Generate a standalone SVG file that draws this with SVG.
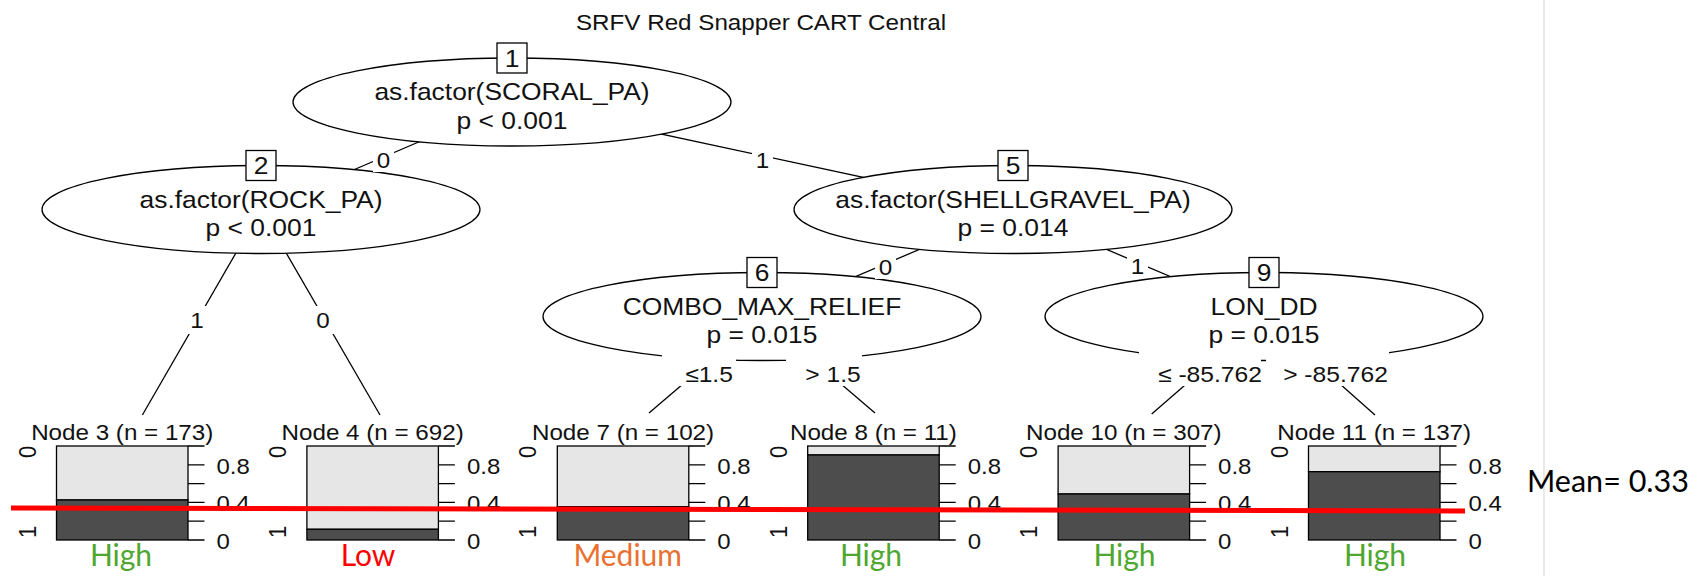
<svg xmlns="http://www.w3.org/2000/svg" width="1704" height="576" viewBox="0 0 1704 576">
<style>
.t{font-family:"Liberation Sans",Arial,sans-serif;font-size:22px;fill:#111;text-anchor:middle}
.tb{font-family:"Liberation Sans",Arial,sans-serif;font-size:24px;fill:#111;text-anchor:middle}
.ts{font-family:"Liberation Sans",Arial,sans-serif;font-size:22px;fill:#111;text-anchor:start}
.ell{fill:#fff;stroke:#000;stroke-width:1.3}
.idb{fill:#fff;stroke:#000;stroke-width:1.3}
.edge{stroke:#000;stroke-width:1.3;fill:none}
.bg{fill:#fff}
.light{fill:#e6e6e6;stroke:#000;stroke-width:1.3}
.dark{fill:#4d4d4d;stroke:#000;stroke-width:1.3}
.tick{stroke:#000;stroke-width:1.3;fill:none}
.cls{font-family:Lato,"Open Sans",sans-serif;font-size:30px;text-anchor:middle}
.hi{fill:#4ea72e}.lo{fill:#ff0000}.me{fill:#e97132}
</style>
<rect width="1704" height="576" fill="#fff"/>
<line x1="1544" y1="0" x2="1544" y2="576" stroke="#e3e3e3" stroke-width="1.5"/>
<text class="t" transform="translate(761,30) scale(1.1,1)">SRFV Red Snapper CART Central</text>

<g id="connectors">
<line class="edge" x1="512" y1="102" x2="261" y2="209.5"/>
<line class="edge" x1="512" y1="102" x2="1013" y2="209.5"/>
<line class="edge" x1="1013" y1="209.5" x2="762" y2="316.5"/>
<line class="edge" x1="1013" y1="209.5" x2="1264" y2="316.5"/>
<line class="edge" x1="261" y1="209.5" x2="142.4" y2="415"/>
<line class="edge" x1="261" y1="209.5" x2="380" y2="415"/>
<line class="edge" x1="762" y1="316.5" x2="649" y2="413"/>
<line class="edge" x1="762" y1="316.5" x2="875" y2="413"/>
<line class="edge" x1="1264" y1="316.5" x2="1151.7" y2="414"/>
<line class="edge" x1="1264" y1="316.5" x2="1375" y2="415"/>
</g>

<g id="node1">
<ellipse class="ell" cx="512" cy="102" rx="219" ry="44"/>
<rect class="idb" x="497" y="43" width="30" height="30"/>
<text class="tb" transform="translate(512,66.5) scale(1.1,1)">1</text>
<text class="tb" transform="translate(512,100) scale(1.1,1)">as.factor(SCORAL_PA)</text>
<text class="tb" transform="translate(512,128.5) scale(1.1,1)">p &lt; 0.001</text>
</g>
<g id="node2">
<ellipse class="ell" cx="261" cy="209.5" rx="219" ry="44"/>
<rect class="idb" x="246" y="150.5" width="30" height="30"/>
<text class="tb" transform="translate(261,174) scale(1.1,1)">2</text>
<text class="tb" transform="translate(261,207.5) scale(1.1,1)">as.factor(ROCK_PA)</text>
<text class="tb" transform="translate(261,236) scale(1.1,1)">p &lt; 0.001</text>
</g>
<g id="node5">
<ellipse class="ell" cx="1013" cy="209.5" rx="219" ry="44"/>
<rect class="idb" x="998" y="150.5" width="30" height="30"/>
<text class="tb" transform="translate(1013,174) scale(1.1,1)">5</text>
<text class="tb" transform="translate(1013,207.5) scale(1.1,1)">as.factor(SHELLGRAVEL_PA)</text>
<text class="tb" transform="translate(1013,236) scale(1.1,1)">p = 0.014</text>
</g>
<g id="node6">
<ellipse class="ell" cx="762" cy="316.5" rx="219" ry="44"/>
<rect class="idb" x="747" y="257.5" width="30" height="30"/>
<text class="tb" transform="translate(762,281) scale(1.1,1)">6</text>
<text class="tb" transform="translate(762,314.5) scale(1.1,1)">COMBO_MAX_RELIEF</text>
<text class="tb" transform="translate(762,343) scale(1.1,1)">p = 0.015</text>
</g>
<g id="node9">
<ellipse class="ell" cx="1264" cy="316.5" rx="219" ry="44"/>
<rect class="idb" x="1249" y="257.5" width="30" height="30"/>
<text class="tb" transform="translate(1264,281) scale(1.1,1)">9</text>
<text class="tb" transform="translate(1264,314.5) scale(1.1,1)">LON_DD</text>
<text class="tb" transform="translate(1264,343) scale(1.1,1)">p = 0.015</text>
</g>

<g id="edge-labels">
<rect class="bg" x="373" y="148" width="21" height="24"/>
<text class="t" transform="translate(383.5,168) scale(1.1,1)">0</text>
<rect class="bg" x="752" y="148" width="21" height="24"/>
<text class="t" transform="translate(762.5,168) scale(1.1,1)">1</text>
<rect class="bg" x="875" y="255" width="21" height="24"/>
<text class="t" transform="translate(885.5,275) scale(1.1,1)">0</text>
<rect class="bg" x="1127" y="254" width="21" height="24"/>
<text class="t" transform="translate(1137.5,274) scale(1.1,1)">1</text>
<rect class="bg" x="186" y="306" width="22" height="28"/>
<text class="t" transform="translate(197,328) scale(1.1,1)">1</text>
<rect class="bg" x="312" y="306" width="22" height="28"/>
<text class="t" transform="translate(323,328) scale(1.1,1)">0</text>
<rect class="bg" x="662" y="352" width="74" height="34"/>
<text class="t" transform="translate(709,382) scale(1.12,1)">≤1.5</text>
<rect class="bg" x="786" y="352" width="76" height="34"/>
<text class="t" transform="translate(833,382) scale(1.12,1)">&gt; 1.5</text>
<rect class="bg" x="1139" y="350" width="122" height="36"/>
<text class="t" transform="translate(1210,382) scale(1.12,1)">≤ -85.762</text>
<rect class="bg" x="1266" y="350" width="123" height="36"/>
<text class="t" transform="translate(1335.5,382) scale(1.12,1)">&gt; -85.762</text>
</g>

<g id="node3">
<text class="t" transform="translate(122.2,440) scale(1.1,1)">Node 3 (n = 173)</text>
<text class="t" transform="translate(35.5,452) scale(1.09,1) rotate(-90)">0</text>
<text class="t" transform="translate(35.5,532) scale(1.09,1) rotate(-90)">1</text>
<rect class="light" x="56.5" y="446" width="131.5" height="54"/>
<rect class="dark" x="56.5" y="500" width="131.5" height="40"/>
<path class="tick" d="M188 446h16.5M188 464.8h16.5M188 483.6h16.5M188 502.4h16.5M188 521.2h16.5M188 540h16.5"/>
<text class="ts" transform="translate(216.5,473.8) scale(1.09,1)">0.8</text>
<text class="ts" transform="translate(216.5,511.4) scale(1.09,1)">0.4</text>
<text class="ts" transform="translate(216.5,549) scale(1.09,1)">0</text>
</g>
<g id="node4">
<text class="t" transform="translate(372.6,440) scale(1.1,1)">Node 4 (n = 692)</text>
<text class="t" transform="translate(285.9,452) scale(1.09,1) rotate(-90)">0</text>
<text class="t" transform="translate(285.9,532) scale(1.09,1) rotate(-90)">1</text>
<rect class="light" x="306.9" y="446" width="131.5" height="83.3"/>
<rect class="dark" x="306.9" y="529.3" width="131.5" height="10.7"/>
<path class="tick" d="M438.4 446h16.5M438.4 464.8h16.5M438.4 483.6h16.5M438.4 502.4h16.5M438.4 521.2h16.5M438.4 540h16.5"/>
<text class="ts" transform="translate(466.9,473.8) scale(1.09,1)">0.8</text>
<text class="ts" transform="translate(466.9,511.4) scale(1.09,1)">0.4</text>
<text class="ts" transform="translate(466.9,549) scale(1.09,1)">0</text>
</g>
<g id="node7">
<text class="t" transform="translate(623,440) scale(1.1,1)">Node 7 (n = 102)</text>
<text class="t" transform="translate(536.3,452) scale(1.09,1) rotate(-90)">0</text>
<text class="t" transform="translate(536.3,532) scale(1.09,1) rotate(-90)">1</text>
<rect class="light" x="557.3" y="446" width="131.5" height="60.7"/>
<rect class="dark" x="557.3" y="506.7" width="131.5" height="33.3"/>
<path class="tick" d="M688.8 446h16.5M688.8 464.8h16.5M688.8 483.6h16.5M688.8 502.4h16.5M688.8 521.2h16.5M688.8 540h16.5"/>
<text class="ts" transform="translate(717.3,473.8) scale(1.09,1)">0.8</text>
<text class="ts" transform="translate(717.3,511.4) scale(1.09,1)">0.4</text>
<text class="ts" transform="translate(717.3,549) scale(1.09,1)">0</text>
</g>
<g id="node8">
<text class="t" transform="translate(873.4,440) scale(1.1,1)">Node 8 (n = 11)</text>
<text class="t" transform="translate(786.7,452) scale(1.09,1) rotate(-90)">0</text>
<text class="t" transform="translate(786.7,532) scale(1.09,1) rotate(-90)">1</text>
<rect class="light" x="807.7" y="446" width="131.5" height="9"/>
<rect class="dark" x="807.7" y="455" width="131.5" height="85"/>
<path class="tick" d="M939.2 446h16.5M939.2 464.8h16.5M939.2 483.6h16.5M939.2 502.4h16.5M939.2 521.2h16.5M939.2 540h16.5"/>
<text class="ts" transform="translate(967.7,473.8) scale(1.09,1)">0.8</text>
<text class="ts" transform="translate(967.7,511.4) scale(1.09,1)">0.4</text>
<text class="ts" transform="translate(967.7,549) scale(1.09,1)">0</text>
</g>
<g id="node10">
<text class="t" transform="translate(1123.8,440) scale(1.1,1)">Node 10 (n = 307)</text>
<text class="t" transform="translate(1037.1,452) scale(1.09,1) rotate(-90)">0</text>
<text class="t" transform="translate(1037.1,532) scale(1.09,1) rotate(-90)">1</text>
<rect class="light" x="1058.1" y="446" width="131.5" height="48"/>
<rect class="dark" x="1058.1" y="494" width="131.5" height="46"/>
<path class="tick" d="M1189.6 446h16.5M1189.6 464.8h16.5M1189.6 483.6h16.5M1189.6 502.4h16.5M1189.6 521.2h16.5M1189.6 540h16.5"/>
<text class="ts" transform="translate(1218.1,473.8) scale(1.09,1)">0.8</text>
<text class="ts" transform="translate(1218.1,511.4) scale(1.09,1)">0.4</text>
<text class="ts" transform="translate(1218.1,549) scale(1.09,1)">0</text>
</g>
<g id="node11">
<text class="t" transform="translate(1374.2,440) scale(1.1,1)">Node 11 (n = 137)</text>
<text class="t" transform="translate(1287.5,452) scale(1.09,1) rotate(-90)">0</text>
<text class="t" transform="translate(1287.5,532) scale(1.09,1) rotate(-90)">1</text>
<rect class="light" x="1308.5" y="446" width="131.5" height="25.7"/>
<rect class="dark" x="1308.5" y="471.7" width="131.5" height="68.3"/>
<path class="tick" d="M1440 446h16.5M1440 464.8h16.5M1440 483.6h16.5M1440 502.4h16.5M1440 521.2h16.5M1440 540h16.5"/>
<text class="ts" transform="translate(1468.5,473.8) scale(1.09,1)">0.8</text>
<text class="ts" transform="translate(1468.5,511.4) scale(1.09,1)">0.4</text>
<text class="ts" transform="translate(1468.5,549) scale(1.09,1)">0</text>
</g>

<line x1="11" y1="508" x2="1465" y2="511" stroke="#ff0000" stroke-width="5"/>

<g id="class-labels">
<text class="cls hi" x="121" y="566">High</text>
<text class="cls lo" x="368" y="566">Low</text>
<text class="cls me" x="627.7" y="566">Medium</text>
<text class="cls hi" x="871" y="566">High</text>
<text class="cls hi" x="1124.5" y="566">High</text>
<text class="cls hi" x="1375" y="566">High</text>
</g>
<text x="1527" y="492" font-family="Lato,'Open Sans',sans-serif" font-size="30.5" fill="#000">Mean= 0.33</text>
</svg>
